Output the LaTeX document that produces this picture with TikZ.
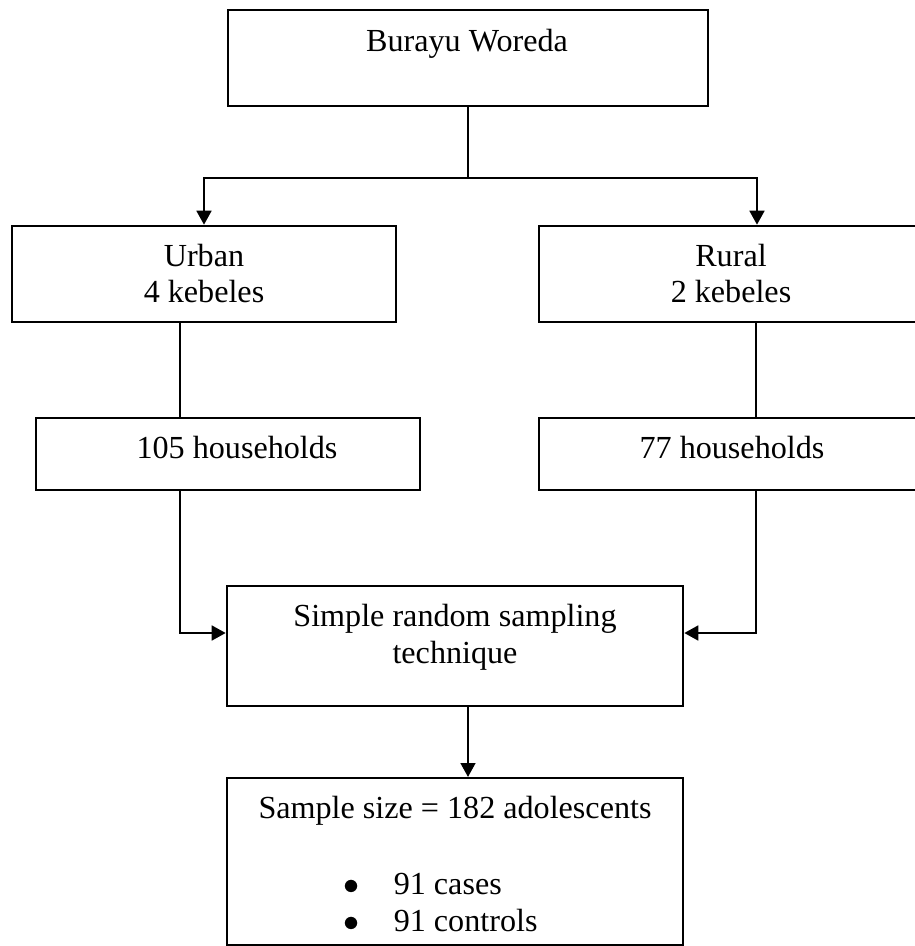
\documentclass[tikz,border=0pt]{standalone}
\usepackage{fontspec}
\setmainfont{Liberation Serif}
\usetikzlibrary{arrows.meta}
\newcommand{\pxl}{0.013115cm}

\tikzset{
  every box/.style={draw, line width=1pt, inner sep=0pt},
  box side/.style={minimum width=384*\pxl, minimum height=96*\pxl},
  box count/.style={minimum width=384*\pxl, minimum height=72*\pxl},
  every label/.style={anchor=base, inner sep=0pt}
}

\begin{document}
\begin{tikzpicture}[x=\pxl, y=-\pxl, line width=0.6pt, >={Triangle[length=5.2pt,width=5.6pt]},
  font=\fontsize{12}{14}\selectfont]

\useasboundingbox (0,0) rectangle (915,946);
\clip (0,0) rectangle (915,946);

% boxes
\node [every box, line width=0.7pt, minimum width=480*\pxl, minimum height=96*\pxl] (burayu) at (468,58) {};

\foreach \n/\x in {urban/204, rural/731}
  \node [every box, box side] (\n) at (\x,274) {};

\foreach \n/\x in {hh-urban/228, hh-rural/731}
  \node [every box, box count] (\n) at (\x,454) {};

\node [every box, minimum width=456*\pxl, minimum height=120*\pxl] (srs) at (455,646) {};
\node [every box, line width=0.8pt, minimum width=456*\pxl, minimum height=167*\pxl] (sample) at (455,861.5) {};

% texts
\foreach \t/\x/\y [count=\i] in {Burayu Woreda/467/51, Urban/204/266, 4 kebeles/204/302,
    Rural/731/266, 2 kebeles/731/302, 105 households/237/458, 77 households/732/458,
    Simple random sampling/455/626, technique/455/663, Sample size = 182 adolescents/455/818}
  \node [every label] (txt-\i) at (\x,\y) {\t};

\foreach \t/\y [count=\i] in {91 cases/894, 91 controls/931} {
  \node [every label] (dot-\i) at (352,\y) {$\bullet$};
  \node [every label, anchor=base west] (item-\i) at (393,\y) {\t};
}

% connectors
\coordinate (split) at (468,178);
\coordinate (rur-in) at (757,178);
\coordinate (urb-x) at (180,0);
\coordinate (rur-x) at (756,0);
\coordinate (join-y) at (0,633);

\draw (burayu.south -| split) -- (split);
\draw [->] (split) -| (urban.north);
\draw [->] (split) -- (rur-in) -- (rur-in |- rural.north);

\draw (urban.south -| urb-x) -- (hh-urban.north -| urb-x);
\draw (rural.south -| rur-x) -- (hh-rural.north -| rur-x);

\draw [->] (hh-urban.south -| urb-x) |- (srs.west |- join-y);
\draw [->] (hh-rural.south -| rur-x) |- (srs.east |- join-y);

\draw [->] (srs.south -| split) -- (sample.north -| split);

\end{tikzpicture}
\end{document}
